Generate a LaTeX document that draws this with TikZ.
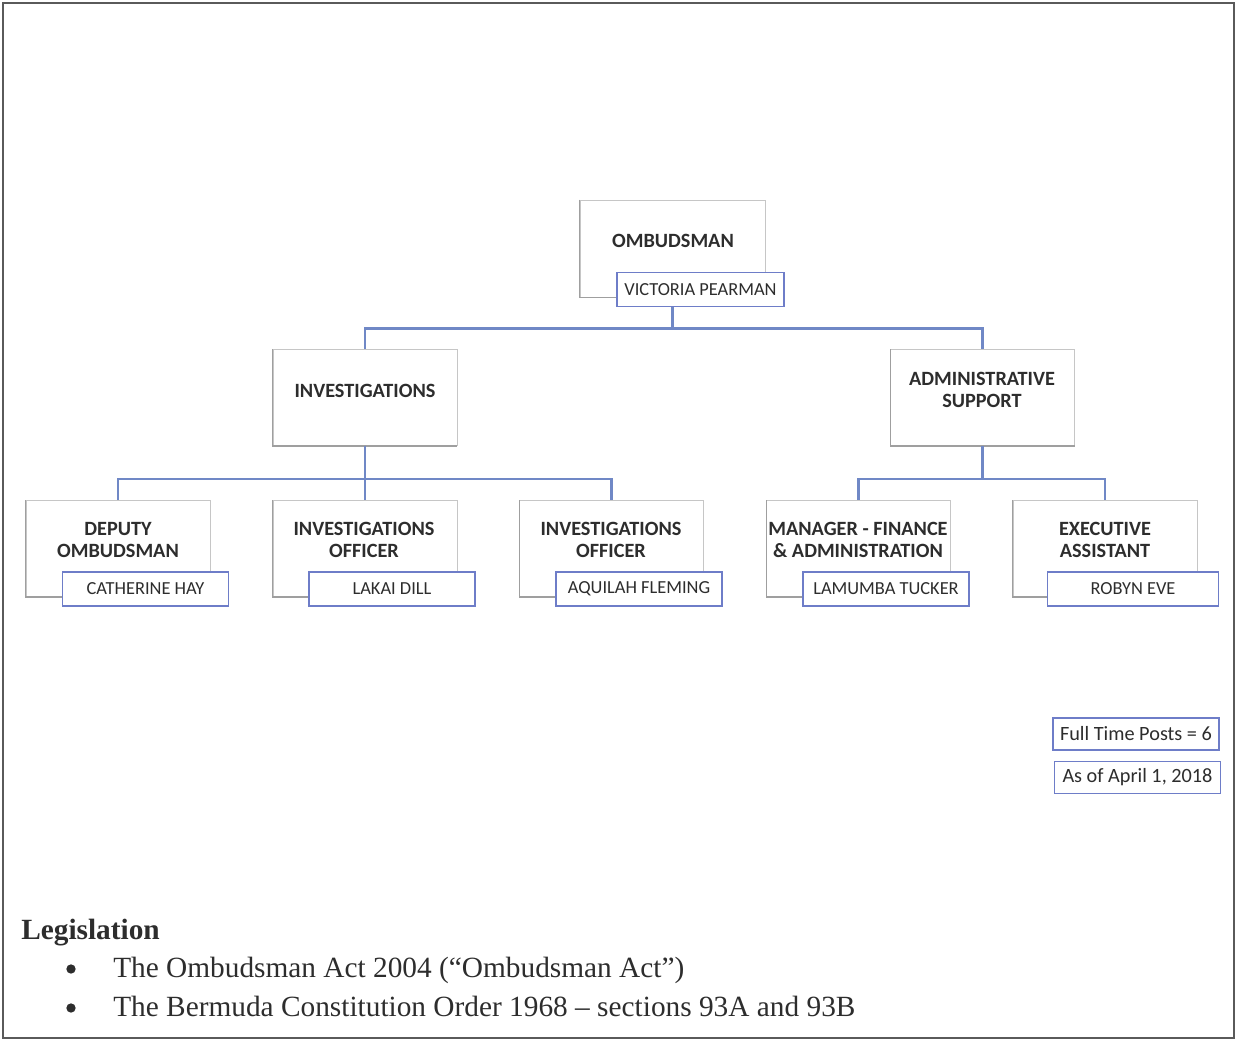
\documentclass[tikz,border=0pt]{standalone}
\usepackage{fontspec}
\setmainfont{Liberation Serif}
\newfontfamily\calfont{Carlito}
\definecolor{conn}{RGB}{112,136,198}
\definecolor{namebd}{RGB}{110,125,200}
\definecolor{txt}{RGB}{45,45,45}
\definecolor{frm}{RGB}{90,90,90}
\tikzset{
  posbox/.style={draw=gray!45, line width=0.6pt, fill=white, inner sep=0pt, minimum width=138pt, minimum height=72pt},
  ttl/.style={font=\calfont\bfseries\fontsize{15.2}{16.5}\selectfont, text=txt, align=center, inner sep=0pt},
  nm/.style={draw=namebd, line width=0.9pt, fill=white, font=\calfont\fontsize{13.8}{16}\selectfont, text=txt, minimum width=124.5pt, minimum height=25.5pt, inner sep=0pt},
  conline/.style={draw=conn, line width=2pt},
  shade/.style={draw=gray!75, line width=0.9pt},
  legtxt/.style={font=\fontsize{22}{26}\selectfont, text=txt, inner sep=0pt},
  bul/.style={circle, fill=txt, inner sep=0pt, minimum size=7pt},
  info/.style={draw=namebd, line width=0.9pt, fill=white, font=\calfont\fontsize{15.2}{17}\selectfont, text=txt, minimum height=24pt, inner sep=0pt}
}
\begin{document}
\begin{tikzpicture}[x=0.75pt,y=-0.75pt]
\path[use as bounding box] (0,0) rectangle (1236,1040);
\draw[frm, line width=1.4pt] (3,3) rectangle (1234,1038);

% boxes
\node[posbox, minimum width=138.75pt, minimum height=72.75pt] (ombBox) at (672.5,248.5) {};
\node[posbox] (invBox) at (365,397.5) {};
\node[posbox] (admBox) at (982.5,397.5) {};
\node[posbox] (depBox) at (118,548.5) {};
\node[posbox] (io1Box) at (365,548.5) {};
\node[posbox] (io2Box) at (611.5,548.5) {};
\node[posbox] (mgrBox) at (858.5,548.5) {};
\node[posbox] (exeBox) at (1105,548.5) {};

% shading on left/bottom edges
\foreach \b in {ombBox,invBox,admBox,depBox,io1Box,io2Box,mgrBox,exeBox}{
  \draw[shade] (\b.north west) -- (\b.south west) -- (\b.south east);
}

% connectors
\draw[conline] (ombBox.south) -- ++(0,31) -| (invBox.north);
\draw[conline] (ombBox.south) -- ++(0,31) -| (admBox.north);
\draw[conline] (invBox.south) -- ++(0,33) -| (depBox.north);
\draw[conline] (invBox.south) -- (io1Box.north);
\draw[conline] (invBox.south) -- ++(0,33) -| (io2Box.north);
\draw[conline] (admBox.south) -- ++(0,33) -| (mgrBox.north);
\draw[conline] (admBox.south) -- ++(0,33) -| (exeBox.north);

% titles
\node[ttl] (ombT) at (673,241) {OMBUDSMAN};
\node[ttl] (invT) at (365,391) {INVESTIGATIONS};
\node[ttl] (admT) at (982,390) {ADMINISTRATIVE\\SUPPORT};
\node[ttl] (depT) at (118,540) {DEPUTY\\OMBUDSMAN};
\node[ttl] (io1T) at (364,540) {INVESTIGATIONS\\OFFICER};
\node[ttl] (io2T) at (611,540) {INVESTIGATIONS\\OFFICER};
\node[ttl] (mgrT) at (858,540) {MANAGER - FINANCE\\\& ADMINISTRATION};
\node[ttl] (exeT) at (1105,540) {EXECUTIVE\\ASSISTANT};

% names
\node[nm, minimum width=125.25pt] (ombN) at (700.5,289.5) {VICTORIA PEARMAN};
\node[nm] (depN) at (145.5,589) {CATHERINE HAY};
\node[nm] (io1N) at (392,589) {LAKAI DILL};
\node[nm] (io2N) at (639,589) {AQUILAH FLEMING};
\node[nm] (mgrN) at (886,589) {LAMUMBA TUCKER};
\node[nm, minimum width=128pt] (exeN) at (1133,589) {ROBYN EVE};

% info boxes
\node[info, minimum width=124.5pt] (posts) at (1136,734) {Full Time Posts = 6};
\node[info, minimum width=124pt] (asof) at (1137.5,777.5) {As of April 1, 2018};

% legislation
\node[legtxt, anchor=base west, font=\bfseries\fontsize{22}{26}\selectfont] (leg) at (21,939) {Legislation};
\node[bul] (b1) at (71,969) {};
\node[legtxt, anchor=base west] (l1) at (113,977) {The Ombudsman Act 2004 (“Ombudsman Act”)};
\node[bul] (b2) at (71,1008) {};
\node[legtxt, anchor=base west] (l2) at (113,1016) {The Bermuda Constitution Order 1968 – sections 93A and 93B};
\end{tikzpicture}
\end{document}
